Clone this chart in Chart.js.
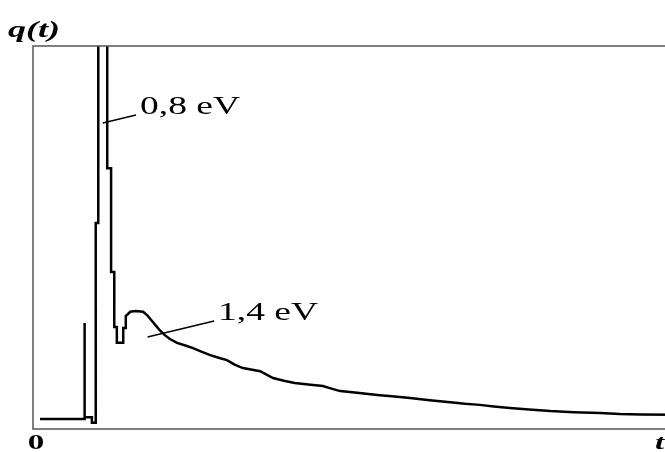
<!DOCTYPE html>
<html>
<head>
<meta charset="utf-8">
<script src="https://cdn.jsdelivr.net/npm/chart.js@4"></script>
<style>
  html, body { margin: 0; padding: 0; background: #fff; overflow: hidden; }
</style>
</head>
<body>
<canvas id="chart" width="680" height="452"></canvas>
<script>
// time axis (arbitrary units) and signal q(t)
const tValues = [1.1, 8.0, 8.0, 8.1, 8.1, 9.2, 9.2, 9.8, 9.8, 10.2, 10.2, 11.6, 11.6, 12.2, 12.2, 12.7,
  12.7, 13.1, 13.1, 14.1, 14.1, 14.5, 14.5, 15.2, 16.0, 17.2, 17.9, 18.6, 19.3, 19.8, 20.6, 21.4, 22.5, 23.8,
  25.0, 26.3, 27.7, 29.0, 30.3, 31.5, 32.8, 35.5, 37.5, 39.2, 40.9, 43.0, 45.3, 46.5, 48.0, 51.0,
  53.8, 56.5, 58.9, 62.0, 65.2, 67.5, 69.8, 72.0, 74.5, 77.5, 80.8, 84.5, 88.6, 91.7, 95.0, 100];
const qValues = [2.6, 2.6, 27.7, 27.7, 3.1, 3.1, 1.6, 1.6, 53.8, 53.8, 104, 104, 68.1, 68.1, 41.0, 41.0,
  26.6, 26.6, 22.5, 22.5, 26.4, 26.4, 29.5, 30.6, 30.8, 30.6, 29.6, 28.2, 26.8, 25.8, 24.5, 23.5, 22.5, 21.8,
  21.1, 20.2, 19.3, 18.6, 18.0, 16.8, 15.9, 15.1, 13.3, 12.6, 12.0, 11.6, 11.2, 10.6, 9.9, 9.4,
  8.9, 8.5, 8.1, 7.5, 7.0, 6.6, 6.3, 5.9, 5.5, 5.1, 4.7, 4.4, 4.2, 3.9, 3.8, 3.7];

// peak labels: text, point on the curve, end of the leader line
const peakLabels = ['0,8 eV', '1,4 eV'];
const peakAt = [[10.9, 79.9], [17.9, 24.0]];
const labelAt = [[16.1, 82.0], [28.3, 28.2]];

const points = tValues.map((t, i) => ({ x: t, y: qValues[i] }));

const textStretch = 1.5;

function stretchedText(ctx, text, x, y, font, align) {
  ctx.save();
  ctx.font = font;
  ctx.textBaseline = 'alphabetic';
  ctx.translate(x, y);
  ctx.scale(textStretch, 1);
  const w = ctx.measureText(text).width;
  ctx.fillText(text, align === 'center' ? -w / 2 : 0, 0);
  ctx.restore();
}

const decorations = {
  id: 'decorations',
  afterDraw(chart) {
    const { ctx, chartArea: a, scales } = chart;
    ctx.save();
    // box
    ctx.strokeStyle = '#555';
    ctx.lineWidth = 1.5;
    ctx.strokeRect(a.left, a.top, a.right - a.left, a.bottom - a.top);

    ctx.fillStyle = '#000';
    stretchedText(ctx, 'q(t)', 8, 37, 'italic bold 24px "Liberation Serif"');
    stretchedText(ctx, '0', 36, 449, 'bold 22px "Liberation Serif"', 'center');
    stretchedText(ctx, 't', 655, 449, 'italic bold 22px "Liberation Serif"');

    // peak labels with leader lines
    ctx.strokeStyle = '#000';
    ctx.lineWidth = 1.5;
    peakLabels.forEach((lbl, i) => {
      const x0 = scales.x.getPixelForValue(peakAt[i][0]);
      const y0 = scales.y.getPixelForValue(peakAt[i][1]);
      const x1 = scales.x.getPixelForValue(labelAt[i][0]);
      const y1 = scales.y.getPixelForValue(labelAt[i][1]);
      ctx.beginPath();
      ctx.moveTo(x0, y0);
      ctx.lineTo(x1, y1);
      ctx.stroke();
      stretchedText(ctx, lbl, x1 + 4, y1 - 1, '25px "Liberation Serif"');
    });
    ctx.restore();
  }
};

new Chart(document.getElementById('chart'), {
  type: 'line',
  data: {
    datasets: [{
      data: points,
      borderColor: '#000',
      borderWidth: 2.5,
      pointRadius: 0,
      tension: 0,
      fill: false,
      clip: 0
    }]
  },
  options: {
    responsive: false,
    animation: false,
    layout: { padding: { left: 33, top: 46, right: 7, bottom: 23 } },
    scales: {
      x: { type: 'linear', min: 0, max: 100, display: false },
      y: { min: 0, max: 100, display: false }
    },
    plugins: {
      legend: { display: false },
      tooltip: { enabled: false }
    }
  },
  plugins: [decorations]
});
</script>
</body>
</html>
